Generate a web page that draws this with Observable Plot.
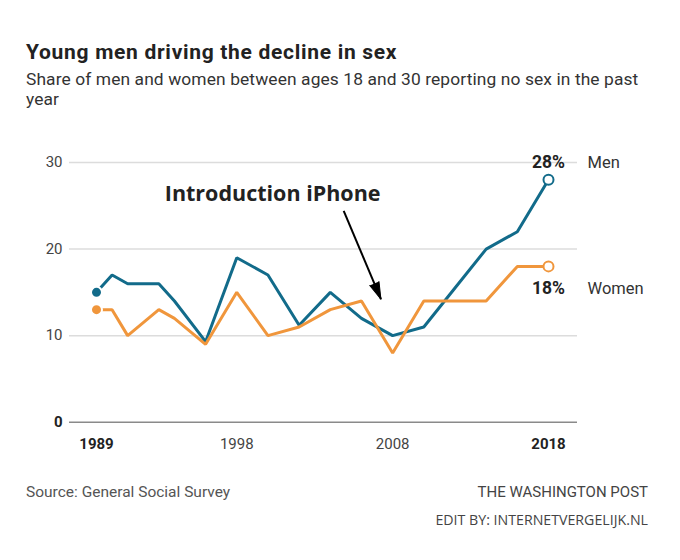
<!DOCTYPE html>
<html>
<head>
<meta charset="utf-8">
<script src="https://cdn.jsdelivr.net/npm/d3@7"></script>
<script src="https://cdn.jsdelivr.net/npm/@observablehq/plot@0.6"></script>
<style>
  html, body { margin: 0; padding: 0; background: #fff; }
  #wrap { position: relative; width: 680px; height: 560px; background: #fff; overflow: hidden; }
  .t { position: absolute; white-space: nowrap; }
  #title { left: 26px; top: 42px; font: 700 21px/20px Roboto, sans-serif; letter-spacing: 0.7px; color: #222; }
  #subtitle { left: 26px; top: 70px; width: 640px; white-space: normal; font: 400 17.4px/19.5px Roboto, sans-serif; letter-spacing: 0.1px; color: #333; }
  #chart { position: absolute; left: 0; top: 120px; }
  #source { left: 26px; top: 483px; font: 400 15.5px/18px Roboto, sans-serif; color: #555; }
  #wapo { right: 32px; top: 483px; font: 400 15px/18px Roboto, sans-serif; color: #444; }
  #edit { right: 32px; top: 511px; font: 400 14.2px/18px "Open Sans", sans-serif; color: #444; }
</style>
</head>
<body>
<div id="wrap">
  <div class="t" id="title">Young men driving the decline in sex</div>
  <div class="t" id="subtitle">Share of men and women between ages 18 and 30 reporting no sex in the past year</div>
  <div id="chart"></div>
  <div class="t" id="source">Source: General Social Survey</div>
  <div class="t" id="wapo">THE WASHINGTON POST</div>
  <div class="t" id="edit">EDIT BY: INTERNETVERGELIJK.NL</div>
</div>
<script>
const years = [1989, 1990, 1991, 1993, 1994, 1996, 1998, 2000, 2002, 2004, 2006, 2008, 2010, 2012, 2014, 2016, 2018];
const men   = [15, 17, 16, 16, 14, 9.3, 19, 17, 11.2, 15, 12, 10, 11, 15.5, 20, 22, 28];
const women = [13, 13, 10, 13, 12, 9, 15, 10, 11, 13, 14, 8, 14, 14, 14, 18, 18];
const seriesNames = ["Men", "Women"];
const seriesColors = ["#126b8a", "#f0963c"];
const xTicksNormal = [1998, 2008];
const xTicksBold = [1989, 2018];
const yTicksNormal = [10, 20, 30];
const yTicksBold = [0];
const annotation = [{year: 2000.3, value: 26.3, text: "Introduction iPhone"}];
const arrowLine = [{x1: 2004.86, y1: 24.42, x2: 2007.25, y2: 14.21}];

const rows = [];
years.forEach((y, i) => {
  rows.push({series: "Men", year: y, value: men[i]});
  rows.push({series: "Women", year: y, value: women[i]});
});
const firsts = seriesNames.map(s => rows.find(d => d.series === s));
const lasts = seriesNames.map(s => rows.filter(d => d.series === s).at(-1));
const labelDy = {Men: -17, Women: 22};
const menLast = lasts.filter(d => d.series === "Men");
const womenLast = lasts.filter(d => d.series === "Women");

const plot = Plot.plot({
  width: 680,
  height: 340,
  marginLeft: 69,
  marginRight: 103,
  marginTop: 42,
  marginBottom: 38.3,
  x: {domain: [1989, 2018], insetLeft: 27, insetRight: 29},
  y: {domain: [0, 30]},
  color: {domain: seriesNames, range: seriesColors},
  style: {fontFamily: "Roboto", fontSize: "15px", color: "#333", background: "white", overflow: "visible"},
  marks: [
    Plot.ruleY(yTicksNormal, {stroke: "#dcdcdc", strokeWidth: 1.5}),
    Plot.ruleY(yTicksBold, {stroke: "#8a8a8a", strokeWidth: 1.5}),
    Plot.axisY({ticks: yTicksNormal, tickSize: 0, tickPadding: 7, fill: "#444", fontSize: 15, label: null}),
    Plot.axisY({ticks: yTicksBold, tickSize: 0, tickPadding: 7, fill: "#222", fontSize: 15, fontWeight: "bold", label: null}),
    Plot.axisX({ticks: xTicksNormal, tickFormat: d => String(d), tickSize: 0, tickPadding: 16, fill: "#444", fontSize: 15, label: null}),
    Plot.axisX({ticks: xTicksBold, tickFormat: d => String(d), tickSize: 0, tickPadding: 16, fill: "#222", fontSize: 15, fontWeight: "bold", label: null}),
    Plot.line(rows.filter(d => d.series === "Men"), {x: "year", y: "value", stroke: seriesColors[0], strokeWidth: 3, strokeLinejoin: "miter"}),
    Plot.line(rows.filter(d => d.series === "Women"), {x: "year", y: "value", stroke: seriesColors[1], strokeWidth: 3, strokeLinejoin: "miter"}),
    Plot.dot(firsts, {x: "year", y: "value", fill: "series", stroke: "white", strokeWidth: 2, r: 5.5}),
    Plot.dot(lasts, {x: "year", y: "value", fill: "white", stroke: "series", strokeWidth: 2, r: 5}),
    Plot.text(menLast, {x: "year", y: "value", text: d => `${d.value}%`, dy: labelDy.Men, fontWeight: "bold", fontSize: 17.5, fill: "#222", textAnchor: "middle"}),
    Plot.text(womenLast, {x: "year", y: "value", text: d => `${d.value}%`, dy: labelDy.Women, fontWeight: "bold", fontSize: 17.5, fill: "#222", textAnchor: "middle"}),
    Plot.text(menLast, {x: "year", y: "value", text: "series", dy: labelDy.Men, dx: 39, fontSize: 16.5, fill: "#333", textAnchor: "start"}),
    Plot.text(womenLast, {x: "year", y: "value", text: "series", dy: labelDy.Women, dx: 39, fontSize: 16.5, fill: "#333", textAnchor: "start"}),
    Plot.text(annotation, {x: "year", y: "value", text: "text", fontFamily: "Open Sans", fontWeight: "bold", fontSize: 21.5, fill: "#222"}),
    Plot.link(arrowLine, {x1: "x1", y1: "y1", x2: "x2", y2: "y2", stroke: "black", strokeWidth: 2}),
    Plot.vector(arrowLine, {x: "x2", y: "y2", rotate: 157.2, length: 17, r: 5, shape: "spike", anchor: "end", fill: "black", stroke: "black", strokeWidth: 1})
  ]
});
document.getElementById("chart").appendChild(plot);
</script>
</body>
</html>
